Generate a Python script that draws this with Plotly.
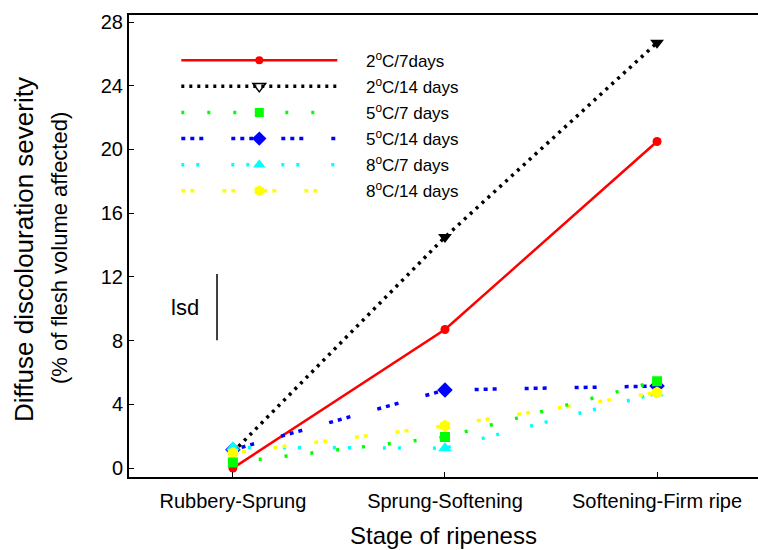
import plotly.graph_objects as go

stages = ["Rubbery-Sprung", "Sprung-Softening", "Softening-Firm ripe"]
x_pos = [0, 1, 2]

c2_7 = [0.0, 8.7, 20.5]
c2_14 = [1.0, 14.5, 26.7]
c5_7 = [0.35, 1.95, 5.45]
c5_14 = [1.15, 4.9, 5.15]
c8_7 = [1.3, 1.25, 4.7]
c8_14 = [0.95, 2.65, 4.75]

lsd_value = 4.15
y_ticks = [0, 4, 8, 12, 16, 20, 24, 28]

FONT = "Arial, Liberation Sans, sans-serif"
PAD = "\u00a0" * 5

series = [
    # name, values, color, dash, width, symbol, size, legend_symbol, rank
    ("2<sup>o</sup>C/7days", c2_7, "#ff0000", "solid", 2.5, "circle", 9, "circle", 1),
    ("2<sup>o</sup>C/14 days", c2_14, "#000000", "3px,5px", 3.5, "triangle-down", 12, "triangle-down-open", 2),
    ("5<sup>o</sup>C/14 days", c5_14, "#0000ff", "4px,5px,4px,5px,4px,28px", 3.5, "diamond", 12, "diamond", 4),
    ("8<sup>o</sup>C/7 days", c8_7, "#00ffff", "3px,12px,3px,32px", 3.5, "triangle-up", 12, "triangle-up", 5),
    ("8<sup>o</sup>C/14 days", c8_14, "#ffff00", "4px,5px,4px,28px", 3.5, "hexagon", 12, "hexagon", 6),
    ("5<sup>o</sup>C/7 days", c5_7, "#00ff00", "3px,23px", 3.5, "square", 10, "square", 3),
]

fig = go.Figure()
for name, vals, col, dash, w, sym, size, lsym, rank in series:
    fig.add_trace(go.Scatter(
        x=x_pos, y=vals, mode="lines+markers", name=name,
        line=dict(color=col, dash=dash, width=w),
        marker=dict(symbol=sym, size=size, color=col, line=dict(width=0)),
        showlegend=False,
    ))
    fig.add_trace(go.Scatter(
        x=[None], y=[None], mode="lines+markers", name=PAD + name,
        line=dict(color=col, dash=dash, width=w),
        marker=dict(symbol=lsym, size=size - 1, color=col,
                    line=dict(width=1.5 if "open" in lsym else 0, color=col)),
        legendrank=rank, legendgroup="g%d" % rank,
    ))

# lsd bar
lsd_center = 10.1
fig.add_shape(type="line", xref="x", yref="y", x0=-0.075, x1=-0.075,
              y0=lsd_center - lsd_value / 2, y1=lsd_center + lsd_value / 2,
              line=dict(color="black", width=1.5))
fig.add_annotation(x=-0.225, y=lsd_center, xref="x", yref="y", text="lsd",
                   showarrow=False, font=dict(family=FONT, size=22, color="black"))

# y title (two lines), pixel positions converted below
fig.add_annotation(x=24, y=250, xref="paper", yref="paper", text="Diffuse discolouration severity",
                   showarrow=False, textangle=-90, font=dict(family=FONT, size=26, color="black"))
fig.add_annotation(x=60, y=248, xref="paper", yref="paper", text="(% of flesh volume affected)",
                   showarrow=False, textangle=-90, font=dict(family=FONT, size=22, color="black"))

ML, MR, MT, MB = 129, 0, 15, 73
fig.update_layout(
    width=758, height=550,
    margin=dict(l=ML, r=MR, t=MT, b=MB, autoexpand=False),
    plot_bgcolor="white", paper_bgcolor="white",
    font=dict(family=FONT, color="black", size=16),
    showlegend=True,
    legend=dict(x=0.0752, y=0.94, xanchor="left", yanchor="top",
                bgcolor="rgba(0,0,0,0)", font=dict(size=17, family=FONT),
                itemwidth=156, tracegroupgap=1),
    xaxis=dict(range=[-0.49, 2.476], tickvals=x_pos, ticktext=stages,
               showline=True, linecolor="black", linewidth=2, mirror=True,
               ticks="inside", ticklen=5, tickwidth=1, tickcolor="black",
               showgrid=False, zeroline=False, ticklabelstandoff=5,
               title=dict(text="Stage of ripeness", font=dict(size=24, family=FONT), standoff=16),
               tickfont=dict(size=20)),
    yaxis=dict(range=[-0.56, 28.44], tickvals=y_ticks,
               showline=True, linecolor="black", linewidth=2,
               ticks="inside", ticklen=5, tickwidth=1, tickcolor="black",
               showgrid=False, zeroline=False, tickfont=dict(size=20)),
)

pw = 758 - ML - MR
ph = 550 - MT - MB
for ann in fig.layout.annotations[1:]:
    ann.x = (ann.x - ML) / pw
    ann.y = (550 - MB - ann.y) / ph
    ann.xanchor = "center"

fig.write_html("out.html", config={"displayModeBar": False},
               post_script="document.body.style.margin='0';")
